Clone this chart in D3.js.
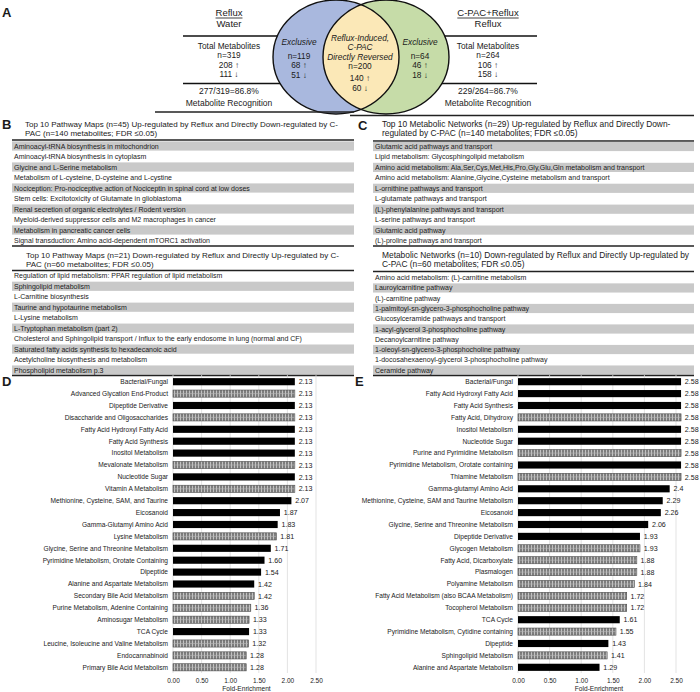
<!DOCTYPE html>
<html><head><meta charset="utf-8">
<script src="https://cdn.jsdelivr.net/npm/d3@7"></script>
<style>
body{margin:0;background:#fff}
svg{display:block}
text{font-family:"Liberation Sans",Arial,Helvetica,sans-serif;fill:#1a1a1a}
</style>
</head><body>
<svg id="c" width="700" height="692"></svg>
<script>
// ---------------- DATA ----------------
const leftHead = ["Reflux", "Water"];
const leftStats = ["Total Metabolites", "n=319", "208 \u2191", "111 \u2193"];
const leftRecog = ["277/319=86.8%", "Metabolite Recognition"];
const rightHead = ["C-PAC+Reflux", "Reflux"];
const rightStats = ["Total Metabolites", "n=264", "106 \u2191", "158 \u2193"];
const rightRecog = ["229/264=86.7%", "Metabolite Recognition"];
const vennLeftText = ["Exclusive", "n=119", "68 \u2191", "51 \u2193"];
const vennMidText = ["Reflux-Induced,", "C-PAC", "Directly Reversed", "n=200", "140 \u2191", "60 \u2193"];
const vennRightText = ["Exclusive", "n=64", "46 \u2191", "18 \u2193"];

const bUpTitle = ["Top 10 Pathway Maps (n=45) Up-regulated by Reflux and Directly Down-regulated by C-",
                  "PAC (n=140 metabolites; FDR \u22640.05)"];
const bUpRows = ["Aminoacyl-tRNA biosynthesis in mitochondrion",
  "Aminoacyl-tRNA biosynthesis in cytoplasm",
  "Glycine and L-Serine metabolism",
  "Metabolism of L-cysteine, D-cysteine and L-cystine",
  "Nociception: Pro-nociceptive action of Nociceptin in spinal cord at low doses",
  "Stem cells: Excitotoxicity of Glutamate in glioblastoma",
  "Renal secretion of organic electrolytes / Rodent version",
  "Myeloid-derived suppressor cells and M2 macrophages in cancer",
  "Metabolism in pancreatic cancer cells",
  "Signal transduction: Amino acid-dependent mTORC1 activation"];
const bDownTitle = ["Top 10 Pathway Maps (n=21) Down-regulated by Reflux and Directly Up-regulated by C-",
                    "PAC (n=60 metabolites; FDR \u22640.05)"];
const bDownRows = ["Regulation of lipid metabolism: PPAR regulation of lipid metabolism",
  "Sphingolipid metabolism",
  "L-Carnitine biosynthesis",
  "Taurine and hypotaurine metabolism",
  "L-Lysine metabolism",
  "L-Tryptophan metabolism (part 2)",
  "Cholesterol and Sphingolipid transport / Influx to the early endosome in lung (normal and CF)",
  "Saturated fatty acids synthesis to hexadecanoic acid",
  "Acetylcholine biosynthesis and metabolism",
  "Phospholipid metabolism p.3"];
const cUpTitle = ["Top 10 Metabolic Networks (n=29) Up-regulated by Reflux and Directly Down-",
                  "regulated by C-PAC (n=140 metabolites; FDR \u22640.05)"];
const cUpRows = ["Glutamic acid pathways and transport",
  "Lipid metabolism: Glycosphingolipid metabolism",
  "Amino acid metabolism: Ala,Ser,Cys,Met,His,Pro,Gly,Glu,Gln metabolism and transport",
  "Amino acid metabolism: Alanine,Glycine,Cysteine metabolism and transport",
  "L-ornithine pathways and transport",
  "L-glutamate pathways and transport",
  "(L)-phenylalanine pathways and transport",
  "L-serine pathways and transport",
  "Glutamic acid pathway",
  "(L)-proline pathways and transport"];
const cDownTitle = ["Metabolic Networks (n=10) Down-regulated by Reflux and Directly Up-regulated by",
                    "C-PAC (n=60 metabolites; FDR \u22640.05)"];
const cDownRows = ["Amino acid metabolism: (L)-carnitine metabolism",
  "Lauroylcarnitine pathway",
  "(L)-carnitine pathway",
  "1-palmitoyl-sn-glycero-3-phosphocholine pathway",
  "Glucosylceramide pathways and transport",
  "1-acyl-glycerol 3-phosphocholine pathway",
  "Decanoylcarnitine pathway",
  "1-oleoyl-sn-glycero-3-phosphocholine pathway",
  "1-docosahexaenoyl-glycerol 3-phosphocholine pathway",
  "Ceramide pathway"];

const dCategories = ["Bacterial/Fungal","Advanced Glycation End-Product","Dipeptide Derivative",
  "Disaccharide and Oligosaccharides","Fatty Acid Hydroxyl Fatty Acid","Fatty Acid Synthesis",
  "Inositol Metabolism","Mevalonate Metabolism","Nucleotide Sugar","Vitamin A Metabolism",
  "Methionine, Cysteine, SAM, and Taurine","Eicosanoid","Gamma-Glutamyl Amino Acid","Lysine Metabolism",
  "Glycine, Serine and Threonine Metabolism","Pyrimidine Metabolism, Orotate Containing","Dipeptide",
  "Alanine and Aspartate Metabolism","Secondary Bile Acid Metabolism","Purine Metabolism, Adenine Containing",
  "Aminosugar Metabolism","TCA Cycle","Leucine, Isoleucine and Valine Metabolism","Endocannabinoid",
  "Primary Bile Acid Metabolism"];
const dValues = [2.13,2.13,2.13,2.13,2.13,2.13,2.13,2.13,2.13,2.13,2.07,1.87,1.83,1.81,1.71,1.60,1.54,
  1.42,1.42,1.36,1.33,1.33,1.32,1.28,1.28];
const dHatched = [0,1,0,1,0,0,0,1,0,1,0,0,0,1,0,0,0,0,1,1,1,0,1,1,1];

const eCategories = ["Bacterial/Fungal","Fatty Acid Hydroxyl Fatty Acid","Fatty Acid Synthesis",
  "Fatty Acid, Dihydroxy","Inositol Metabolism","Nucleotide Sugar","Purine and Pyrimidine Metabolism",
  "Pyrimidine Metabolism, Orotate containing","Thiamine Metabolism","Gamma-glutamyl Amino Acid",
  "Methionine, Cysteine, SAM and Taurine Metabolism","Eicosanoid","Glycine, Serine and Threonine Metabolism",
  "Dipeptide Derivative","Glycogen Metabolism","Fatty Acid, Dicarboxylate","Plasmalogen",
  "Polyamine Metabolism","Fatty Acid Metabolism (also BCAA Metabolism)","Tocopherol Metabolism","TCA Cycle",
  "Pyrimidine Metabolism, Cytidine containing","Dipeptide","Sphingolipid Metabolism",
  "Alanine and Aspartate Metabolism"];
const eValues = [2.58,2.58,2.58,2.58,2.58,2.58,2.58,2.58,2.58,2.4,2.29,2.26,2.06,1.93,1.93,1.88,1.88,
  1.84,1.72,1.72,1.61,1.55,1.43,1.41,1.29];
const eHatched = [0,0,0,1,0,0,1,0,1,0,0,0,0,0,1,1,1,1,1,1,0,1,0,1,0];

const xTicks = [0, 0.5, 1, 1.5, 2, 2.5];
const xTitle = "Fold-Enrichment";

// ---------------- DRAW ----------------
const svg = d3.select("#c");
const defs = svg.append("defs");
const pat = defs.append("pattern").attr("id","hatch").attr("patternUnits","userSpaceOnUse")
  .attr("width",3).attr("height",20);
pat.append("rect").attr("width",3).attr("height",20).attr("fill","#7d7d7d");
pat.append("rect").attr("x",0).attr("width",1).attr("height",20).attr("fill","#c2c2c2");

function panelLetter(t, x, y){
  svg.append("text").attr("x",x).attr("y",y).text(t)
    .style("font-size","13px").style("font-weight","bold").attr("fill","#000");
}

// ---- Panel A ----
panelLetter("A", 2, 17);
const ry = 57, rx = 63, cy = 57, cxL = 336, cxR = 386;

function sideBlock(head, stats, recog, cx, lx0, lx1){
  const g = svg.append("g");
  g.append("line").attr("x1",lx0).attr("x2",lx1).attr("y1",36).attr("y2",36).attr("stroke","#111").attr("stroke-width",1.4);
  g.append("line").attr("x1",lx0).attr("x2",lx1).attr("y1",83.5).attr("y2",83.5).attr("stroke","#111").attr("stroke-width",1.4);
  head.forEach((t,i)=>{
    const tx = g.append("text").attr("x",cx).attr("y",15.5+i*11.3).attr("text-anchor","middle")
      .style("font-size","9.5px").text(t);
    if(i===0){
      const w = tx.node().getComputedTextLength();
      g.append("line").attr("x1",cx-w/2).attr("x2",cx+w/2).attr("y1",18).attr("y2",18).attr("stroke","#111").attr("stroke-width",0.8);
    }
  });
  stats.forEach((t,i)=>{
    g.append("text").attr("x",cx).attr("y",48.5+i*9.6).attr("text-anchor","middle").style("font-size","8.3px").text(t);
  });
  recog.forEach((t,i)=>{
    g.append("text").attr("x",cx).attr("y",93.5+i*12).attr("text-anchor","middle").style("font-size","8.5px").text(t);
  });
}
sideBlock(leftHead, leftStats, leftRecog, 229, 183, cxL);
sideBlock(rightHead, rightStats, rightRecog, 488, cxR, 537);

defs.append("clipPath").attr("id","clipL").append("ellipse").attr("cx",cxL).attr("cy",cy).attr("rx",rx).attr("ry",ry);
svg.append("ellipse").attr("cx",cxL).attr("cy",cy).attr("rx",rx).attr("ry",ry).attr("fill","#a9b8de");
svg.append("ellipse").attr("cx",cxR).attr("cy",cy).attr("rx",rx).attr("ry",ry).attr("fill","#c6dca8");
svg.append("ellipse").attr("cx",cxR).attr("cy",cy).attr("rx",rx).attr("ry",ry).attr("fill","#fbe8b7").attr("clip-path","url(#clipL)");
svg.append("ellipse").attr("cx",cxL).attr("cy",cy).attr("rx",rx).attr("ry",ry).attr("fill","none").attr("stroke","#111").attr("stroke-width",1.4);
svg.append("ellipse").attr("cx",cxR).attr("cy",cy).attr("rx",rx).attr("ry",ry).attr("fill","none").attr("stroke","#111").attr("stroke-width",1.4);

function vennText(arr, cx, ys, italicCount){
  arr.forEach((t,i)=>{
    svg.append("text").attr("x",cx).attr("y",ys[i]+3).attr("text-anchor","middle")
      .style("font-size","8.3px").style("font-style", i<italicCount ? "italic":"normal")
      .attr("fill","#1c2540").text(t);
  });
}
vennText(vennLeftText, 299, [41.7,55.5,65.1,74.7], 1);
vennText(vennMidText, 360, [37.5,47.1,56.7,66.3,77.5,87.5], 3);
vennText(vennRightText, 420, [41.7,55.5,65.1,74.7], 1);

// ---- Panels B & C ----
panelLetter("B", 2, 129);
panelLetter("C", 358, 130);
svg.append("line").attr("x1",155).attr("x2",354).attr("y1",112).attr("y2",112).attr("stroke","#222").attr("stroke-width",1.3);
svg.append("line").attr("x1",350).attr("x2",694).attr("y1",115.5).attr("y2",115.5).attr("stroke","#222").attr("stroke-width",1.3);

function table(title, rows, grayStart, x0, x1, titleX, titleY, lineY, row0, step, titleSize){
  const g = svg.append("g");
  title.forEach((t,i)=>{
    g.append("text").attr("x",titleX).attr("y",titleY+i*9+2.9).style("font-size",titleSize+"px").attr("fill","#111").text(t);
  });
  g.append("line").attr("x1",x0).attr("x2",x1).attr("y1",lineY).attr("y2",lineY).attr("stroke","#222").attr("stroke-width",1.5);
  rows.forEach((t,i)=>{
    const yc = row0 + i*step;
    if((i+grayStart)%2===0){
      g.append("rect").attr("x",x0).attr("y",yc-4.6).attr("width",x1-x0).attr("height",9.2).attr("fill","#c9c9c9");
    }
    g.append("text").attr("x",x0+2).attr("y",yc+2.5).style("font-size","7px").attr("fill","#222").text(t);
  });
  const by = row0 + (rows.length-1)*step + step/2 + 0.3;
  g.append("line").attr("x1",x0).attr("x2",x1).attr("y1",by).attr("y2",by).attr("stroke","#222").attr("stroke-width",1.5);
}
table(bUpTitle, bUpRows, 0, 12, 354, 25, 124, 140, 146, 10.5, 8);
table(bDownTitle, bDownRows, 1, 12, 354, 26, 255, 270.5, 275.8, 10.47, 8);
table(cUpTitle, cUpRows, 0, 373, 694, 382, 124.5, 141, 146.5, 10.45, 8.4);
table(cDownTitle, cDownRows, 1, 373, 694, 382, 255, 271.5, 277.7, 10.26, 8.4);

// ---- Panels D & E ----
panelLetter("D", 2, 386);
panelLetter("E", 355, 386);

function barChart(cats, vals, hatched, x0, x1, fmt){
  const g = svg.append("g");
  const x = d3.scaleLinear().domain([0,2.5]).range([x0,x1]);
  const y = d3.scaleBand().domain(cats).range([375.75,673.25]).paddingInner(0.4).paddingOuter(0.2);
  g.selectAll("line.grid").data(xTicks).join("line").attr("class","grid")
    .attr("x1",d=>x(d)).attr("x2",d=>x(d)).attr("y1",375).attr("y2",673)
    .attr("stroke","#dcdcdc").attr("stroke-width",0.8);
  const data = cats.map((c,i)=>({c, v:vals[i], h:hatched[i]}));
  g.selectAll("rect.bar").data(data).join("rect").attr("class","bar")
    .attr("x",x(0)).attr("y",d=>y(d.c)).attr("width",d=>x(d.v)-x(0)).attr("height",y.bandwidth())
    .attr("fill",d=>d.h ? "url(#hatch)" : "#000")
    .attr("stroke",d=>d.h ? "#4a4a4a" : "none").attr("stroke-width",0.6);
  g.selectAll("line.mid").data(data.filter(d=>d.h)).join("line").attr("class","mid")
    .attr("x1",x(0)+0.5).attr("x2",d=>x(d.v)-0.5)
    .attr("y1",d=>y(d.c)+y.bandwidth()/2).attr("y2",d=>y(d.c)+y.bandwidth()/2)
    .attr("stroke","#b8b8b8").attr("stroke-width",0.6);
  g.selectAll("text.cat").data(data).join("text").attr("class","cat")
    .attr("x",x0-5).attr("y",d=>y(d.c)+y.bandwidth()/2+2.3).attr("text-anchor","end")
    .style("font-size","6.6px").attr("fill","#222").text(d=>d.c);
  g.selectAll("text.val").data(data).join("text").attr("class","val")
    .attr("x",d=>x(d.v)+3.8).attr("y",d=>y(d.c)+y.bandwidth()/2+2.6)
    .style("font-size","7.1px").attr("fill","#222").text(d=>fmt(d.v));
  const ax = g.append("g").attr("transform","translate(0,673)")
    .call(d3.axisBottom(x).tickValues(xTicks).tickFormat(d3.format(".2f")).tickSize(0).tickPadding(5));
  ax.select(".domain").remove();
  ax.selectAll("text").style("font-size","6.5px").attr("fill","#333")
    .style("font-family","'Liberation Sans',Arial,sans-serif");
  g.append("text").attr("x",(x0+x1)/2+2).attr("y",691).attr("text-anchor","middle")
    .style("font-size","6.6px").attr("fill","#222").text(xTitle);
}
barChart(dCategories, dValues, dHatched, 173, 316, d3.format(".2f"));
barChart(eCategories, eValues, eHatched, 518, 676, v=>String(v));
</script>
</body></html>
